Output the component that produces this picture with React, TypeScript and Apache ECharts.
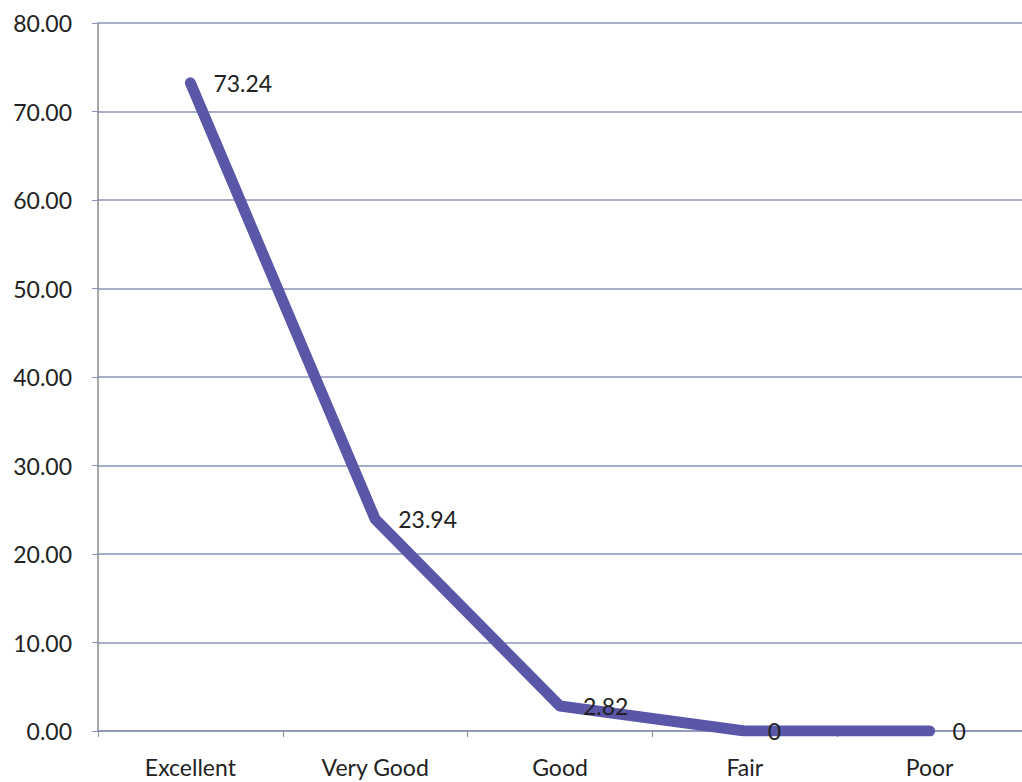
import React, { useEffect, useRef } from "react";
import * as echarts from "echarts";

const categories = ["Excellent", "Very Good", "Good", "Fair", "Poor"];
const values = [73.24, 23.94, 2.82, 0, 0];
const yTicks = { min: 0, max: 80, interval: 10 };

export default function App() {
  const ref = useRef<HTMLDivElement>(null);
  useEffect(() => {
    const chart = echarts.init(ref.current!, null, { renderer: "svg" });
    const font = "Lato, 'Open Sans', sans-serif";
    chart.setOption({
      animation: false,
      backgroundColor: "#ffffff",
      grid: { left: 98, right: -8, top: 23, bottom: 51, containLabel: false },
      xAxis: {
        type: "category",
        data: categories,
        boundaryGap: true,
        axisLine: { show: true, lineStyle: { color: "#8a93b8", width: 1.5 } },
        axisTick: { show: true, length: 6, lineStyle: { color: "#8a8a8a" } },
        axisLabel: { color: "#222", fontSize: 23, fontFamily: font, margin: 24 },
        splitLine: { show: false },
      },
      yAxis: {
        type: "value",
        min: yTicks.min,
        max: yTicks.max,
        interval: yTicks.interval,
        axisLine: { show: true, lineStyle: { color: "#8a8a8a", width: 1.5 } },
        axisTick: { show: true, length: 6, lineStyle: { color: "#8a93b8" } },
        axisLabel: {
          color: "#222",
          fontSize: 23,
          fontFamily: font,
          margin: 26,
          formatter: (v: number) => v.toFixed(2),
        },
        splitLine: { show: true, lineStyle: { color: "#8a93b8", width: 1.5 } },
      },
      series: [
        {
          type: "line",
          data: values,
          symbol: "circle",
          symbolSize: 2,
          showSymbol: true,
          itemStyle: { color: "#5b57a8" },
          lineStyle: { color: "#5b57a8", width: 11, cap: "round", join: "round" },
          label: {
            show: true,
            position: "right",
            distance: 22,
            color: "#222",
            fontSize: 23,
            fontFamily: font,
            formatter: (p: any) => String(p.value),
          },
        },
      ],
    });
    return () => chart.dispose();
  }, []);
  return (
    <div
      ref={ref}
      style={{ position: "absolute", left: 0, top: 0, width: 1022, height: 782 }}
    />
  );
}
